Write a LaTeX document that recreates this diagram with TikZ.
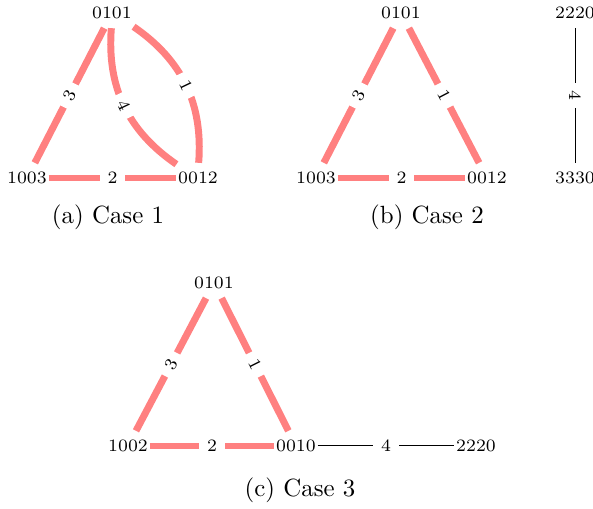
\documentclass[tikz,border=0pt]{standalone}
\usepackage{xcolor}
\usepackage{tikz}
\usetikzlibrary{positioning}
\definecolor{conflict}{RGB}{255,128,128}

\tikzset{
    state/.style={font=\scriptsize, inner xsep=0.5pt, inner ysep=3.5pt},
    hot/.style={draw=conflict, line width=2.8pt},
    cold/.style={draw=black, line width=0.4pt},
    weight/.style={font=\scriptsize, fill=white, inner sep=3.2pt, sloped},
    casename/.style={font=\normalsize}
}

\begin{document}
\begin{tikzpicture}[x=0.4016pt, y=0.4016pt]
    \useasboundingbox (0,0) rectangle (593,509);

    % case 1
    \node[state] (a0101) at (112,496) {0101};
    \node[state] (a1003) at (27,331) {1003};
    \node[state] (a0012) at (198,331) {0012};
    \draw[hot] (a0101) -- node[weight] {3} (a1003);
    \draw[hot] (a1003) -- node[weight] {2} (a0012);
    \draw[hot] (a0101) to[bend left=30] node[weight] {1} (a0012);
    \draw[hot] (a0101) to[bend right=30] node[weight] {4} (a0012);
    \node[casename] (capa) at (108,292) {(a) Case 1};

    % case 2
    \node[state] (b0101) at (401,496) {0101};
    \node[state] (b1003) at (316,331) {1003};
    \node[state] (b0012) at (487,331) {0012};
    \node[state] (b2220) at (575,496) {2220};
    \node[state] (b3330) at (575,331) {3330};
    \draw[hot] (b0101) -- node[weight] {3} (b1003);
    \draw[hot] (b1003) -- node[weight] {2} (b0012);
    \draw[hot] (b0101) -- node[weight] {1} (b0012);
    \draw[cold] (b2220) -- node[weight] {4} (b3330);
    \node[casename] (capb) at (427,292) {(b) Case 2};

    % case 3
    \node[state] (c0101) at (214,226) {0101};
    \node[state] (c1002) at (128,63) {1002};
    \node[state] (c0010) at (296,63) {0010};
    \node[state] (c2220) at (476,63) {2220};
    \draw[hot] (c0101) -- node[weight] {3} (c1002);
    \draw[hot] (c1002) -- node[weight] {2} (c0010);
    \draw[hot] (c0101) -- node[weight] {1} (c0010);
    \draw[cold] (c0010) -- node[weight] {4} (c2220);
    \node[casename] (capc) at (300,19) {(c) Case 3};
\end{tikzpicture}
\end{document}
